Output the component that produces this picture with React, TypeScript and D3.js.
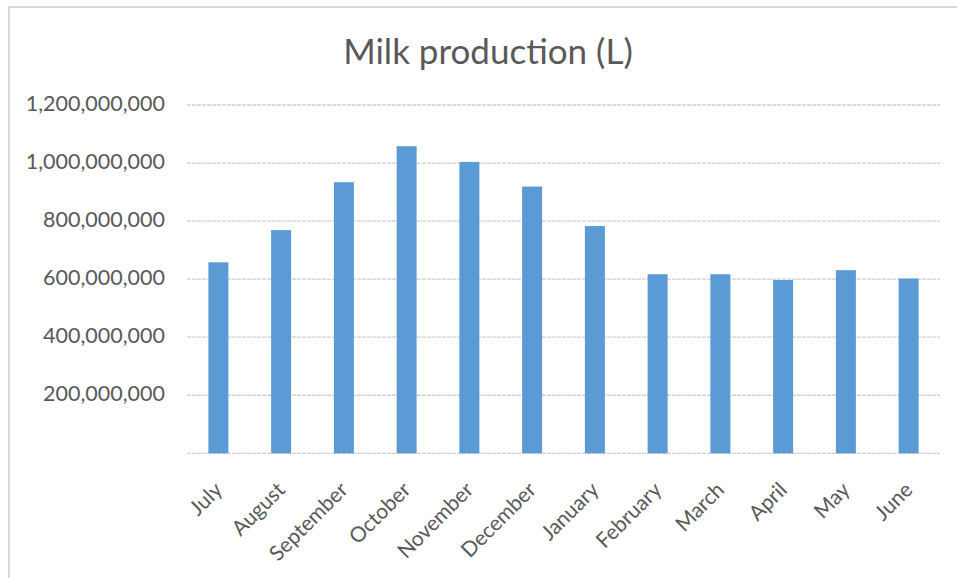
import React from "react";
import * as d3 from "d3";

const months = ["July","August","September","October","November","December","January","February","March","April","May","June"];
const production = [658e6, 769e6, 934e6, 1058e6, 1004e6, 919e6, 783e6, 617e6, 617e6, 597e6, 631e6, 602e6];
const yTicks = [0, 200e6, 400e6, 600e6, 800e6, 1000e6, 1200e6];
const title = "Milk production (L)";

const W = 957, H = 578;
const FONT = "Lato, 'Open Sans', sans-serif";

export default function App() {
  const x = d3.scaleBand<string>().domain(months).range([187, 940]).paddingInner(0).paddingOuter(0);
  const y = d3.scaleLinear().domain([0, 1200e6]).range([453.3, 105]);
  const fmt = d3.format(",");
  const bw = 20;
  return (
    <svg width={W} height={H} style={{ position: "absolute", left: 0, top: 0, background: "#fff" }}>
      <rect x={0} y={0} width={W} height={H} fill="#fff" />
      <path d={`M9,${H + 5} V7 H${W + 5}`} fill="none" stroke="#d9d9d9" strokeWidth={2} />
      <text x={488} y={64} textAnchor="middle" fontFamily={FONT} fontSize={35} fill="#595959">{title}</text>
      {yTicks.map((t) => (
        <g key={t}>
          <line x1={187} x2={940} y1={y(t)} y2={y(t)} stroke="#d0d0d0" strokeWidth={1.3} strokeDasharray="4 1" />
          {t > 0 && (
            <text x={165} y={y(t) - 2} textAnchor="end" dominantBaseline="central" fontFamily={FONT} fontSize={21.5} fill="#595959">{fmt(t)}</text>
          )}
        </g>
      ))}
      {months.map((m, i) => {
        const cx = (x(m) as number) + x.bandwidth() / 2;
        return (
          <g key={m}>
            <rect x={cx - bw / 2} y={y(production[i])} width={bw} height={y(0) - y(production[i])} fill="#5b9bd5" />
            <text transform={`translate(${cx},${486}) rotate(-45)`} textAnchor="end" dy="0.35em" fontFamily={FONT} fontSize={21} fill="#595959">{m}</text>
          </g>
        );
      })}
    </svg>
  );
}
